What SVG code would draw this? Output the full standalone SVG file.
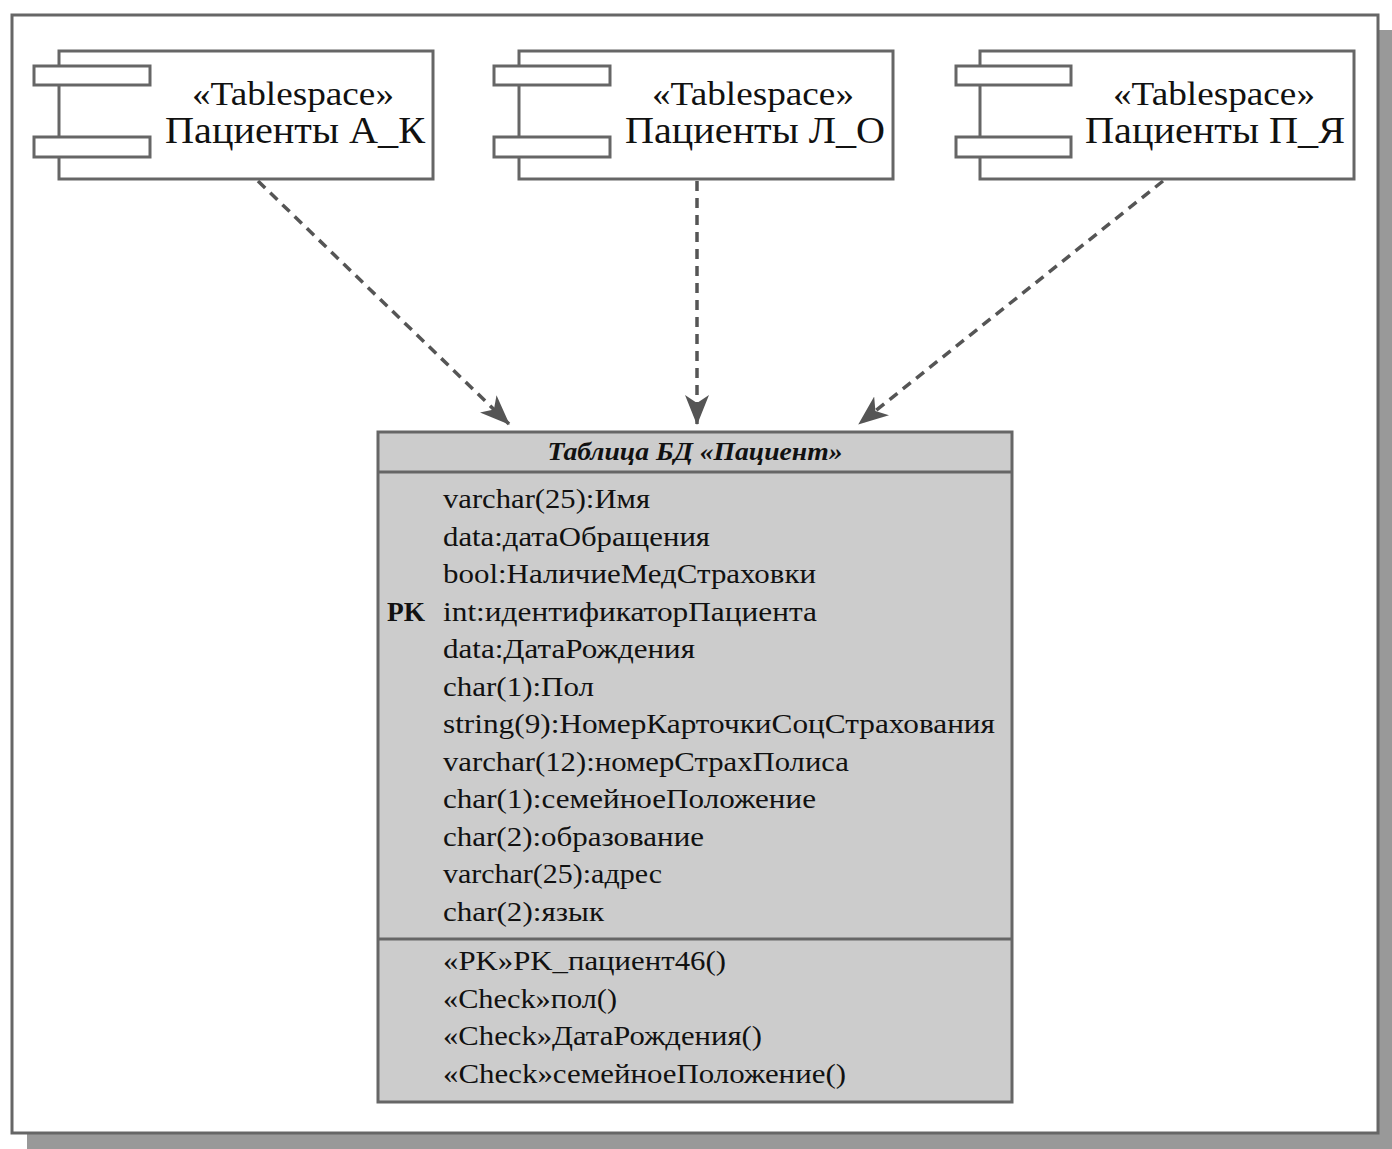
<svg xmlns="http://www.w3.org/2000/svg" width="1392" height="1149" viewBox="0 0 1392 1149">
<style>
.frame{fill:#fff;stroke:#666;stroke-width:3}
.box{fill:#fff;stroke:#666;stroke-width:3}
.tbl{fill:#cccccc;stroke:#666;stroke-width:3}
.sep{stroke:#666;stroke-width:3}
.conn{fill:none;stroke:#555;stroke-width:3.5;stroke-dasharray:10,7}
text{font-family:"Liberation Serif","DejaVu Serif",serif;fill:#111}
.st{font-size:33px;text-anchor:middle}
.nm{font-size:37px;text-anchor:middle}
.hd{font-size:26px;font-weight:bold;font-style:italic;text-anchor:middle}
.at{font-size:28px}
.pk{font-size:28px;font-weight:bold}
</style>
<defs>
<marker id="ah" viewBox="0 0 30 24" refX="29" refY="12" markerWidth="30" markerHeight="24" orient="auto" markerUnits="userSpaceOnUse">
<path d="M0,0 L30,12 L0,24 L8,12 Z" fill="#555"/>
</marker>
</defs>
<rect x="27" y="30" width="1365" height="1119" fill="#999"/>
<rect class="frame" x="12" y="15" width="1366" height="1118"/>
<g id="connectors">
<line class="conn" x1="258" y1="181" x2="509" y2="424" marker-end="url(#ah)"/>
<line class="conn" x1="697" y1="181" x2="697" y2="424" marker-end="url(#ah)"/>
<line class="conn" x1="1163" y1="181" x2="859" y2="424" marker-end="url(#ah)"/>
</g>
<g id="ts1">
<rect class="box" x="59" y="51" width="374" height="128"/>
<rect class="box" x="34" y="66" width="116" height="19"/>
<rect class="box" x="34" y="137" width="116" height="20"/>
<text class="st" x="293" y="105" textLength="202" lengthAdjust="spacingAndGlyphs">«Tablespace»</text>
<text class="nm" x="295" y="143" textLength="260" lengthAdjust="spacingAndGlyphs">Пациенты А_К</text>
</g>
<g id="ts2">
<rect class="box" x="519" y="51" width="374" height="128"/>
<rect class="box" x="494" y="66" width="116" height="19"/>
<rect class="box" x="494" y="137" width="116" height="20"/>
<text class="st" x="753" y="105" textLength="202" lengthAdjust="spacingAndGlyphs">«Tablespace»</text>
<text class="nm" x="755" y="143" textLength="260" lengthAdjust="spacingAndGlyphs">Пациенты Л_О</text>
</g>
<g id="ts3">
<rect class="box" x="980" y="51" width="374" height="128"/>
<rect class="box" x="956" y="66" width="115" height="19"/>
<rect class="box" x="956" y="137" width="115" height="20"/>
<text class="st" x="1214" y="105" textLength="202" lengthAdjust="spacingAndGlyphs">«Tablespace»</text>
<text class="nm" x="1215" y="143" textLength="260" lengthAdjust="spacingAndGlyphs">Пациенты П_Я</text>
</g>
<g id="table">
<rect class="tbl" x="378" y="432" width="634" height="670"/>
<line class="sep" x1="378" y1="472" x2="1012" y2="472"/>
<line class="sep" x1="378" y1="939" x2="1012" y2="939"/>
<text class="hd" x="695" y="460" textLength="295" lengthAdjust="spacingAndGlyphs">Таблица БД «Пациент»</text>
<text class="at" x="443" y="508" textLength="207" lengthAdjust="spacingAndGlyphs">varchar(25):Имя</text>
<text class="at" x="443" y="546" textLength="267" lengthAdjust="spacingAndGlyphs">data:датаОбращения</text>
<text class="at" x="443" y="583" textLength="373" lengthAdjust="spacingAndGlyphs">bool:НаличиеМедСтраховки</text>
<text class="pk" x="387" y="621" textLength="38" lengthAdjust="spacingAndGlyphs">PK</text>
<text class="at" x="443" y="621" textLength="374" lengthAdjust="spacingAndGlyphs">int:идентификаторПациента</text>
<text class="at" x="443" y="658" textLength="252" lengthAdjust="spacingAndGlyphs">data:ДатаРождения</text>
<text class="at" x="443" y="696" textLength="151" lengthAdjust="spacingAndGlyphs">char(1):Пол</text>
<text class="at" x="443" y="733" textLength="552" lengthAdjust="spacingAndGlyphs">string(9):НомерКарточкиСоцСтрахования</text>
<text class="at" x="443" y="771" textLength="406" lengthAdjust="spacingAndGlyphs">varchar(12):номерСтрахПолиса</text>
<text class="at" x="443" y="808" textLength="373" lengthAdjust="spacingAndGlyphs">char(1):семейноеПоложение</text>
<text class="at" x="443" y="846" textLength="261" lengthAdjust="spacingAndGlyphs">char(2):образование</text>
<text class="at" x="443" y="883" textLength="219" lengthAdjust="spacingAndGlyphs">varchar(25):адрес</text>
<text class="at" x="443" y="921" textLength="161" lengthAdjust="spacingAndGlyphs">char(2):язык</text>
<text class="at" x="443" y="970" textLength="283" lengthAdjust="spacingAndGlyphs">«PK»PK_пациент46()</text>
<text class="at" x="443" y="1008" textLength="174" lengthAdjust="spacingAndGlyphs">«Check»пол()</text>
<text class="at" x="443" y="1045" textLength="319" lengthAdjust="spacingAndGlyphs">«Check»ДатаРождения()</text>
<text class="at" x="443" y="1083" textLength="403" lengthAdjust="spacingAndGlyphs">«Check»семейноеПоложение()</text>
</g>
</svg>
